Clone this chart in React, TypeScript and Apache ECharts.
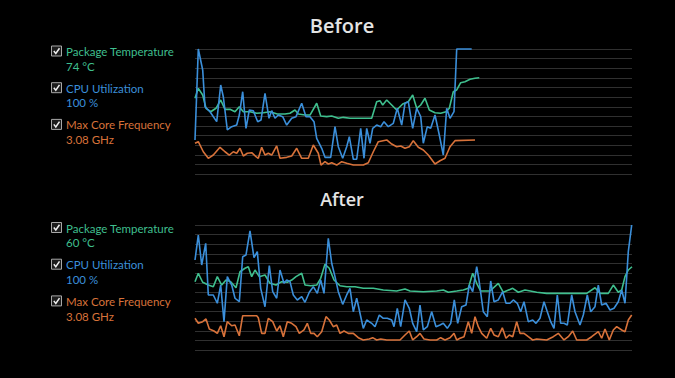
import React, { useEffect, useRef } from "react";
import * as echarts from "echarts";

// Panel titles and legend texts
const panelTitles = ["Before", "After"];
const seriesNames = ["Package Temperature", "CPU Utilization", "Max Core Frequency"];
const beforeReadings = ["74 °C", "100 %", "3.08 GHz"];
const afterReadings = ["60 °C", "100 %", "3.08 GHz"];

// [time step, level] samples, level on a 0..130 scale (CPU 100% reaches top line)
const beforeTemp: [number, number][] = [
  [0, 78.9], [3.3, 89.2], [7.7, 82.3], [11, 68.5], [15.7, 64.9], [21, 68.5], [25.7, 77.1], [30, 67.4],
  [35, 67.4], [40, 64.9], [44.3, 70.1], [48.3, 64.9], [55, 64.9], [61.7, 63.3], [68.3, 63.9], [75, 64.9],
  [82.3, 62.6], [90, 62.6], [95, 63.3], [100, 66.7], [103.3, 62.6], [110, 61.5], [115, 61.5], [121.7, 73.7],
  [125.7, 60.5], [131.7, 59.8], [136.7, 60.5], [143.3, 58.1], [148.3, 59.1], [155, 58.1], [165, 58.1],
  [176.7, 58.1], [181.7, 75.3], [185, 76.4], [187.7, 71.9], [191.7, 77.1], [196.7, 71.9], [201.7, 66.7],
  [207.7, 72.9], [213.3, 75.3], [217.7, 82.3], [221.7, 68.5], [225.7, 71.9], [230, 78.9], [234.3, 66.7],
  [240, 63.9], [245.7, 63.3], [251, 64.9], [254.3, 68.5], [258.3, 85.7], [261.7, 87.5], [265.7, 95.0],
  [270, 96.1], [275, 98.6], [280, 99.6], [284.3, 100.2],
];

const beforeCpu: [number, number][] = [
  [0, 35.6], [3.3, 130], [7.7, 108.2], [10, 70.1], [15, 64.9], [21.7, 54.6], [25.7, 92.6], [28.3, 80.5],
  [32.3, 46.0], [36.7, 49.4], [41.7, 51.1], [44.3, 61.5], [47.7, 85.7], [51, 47.7], [54.3, 66.7], [58.3, 66.0],
  [62.7, 54.6], [66, 56.3], [70, 84.0], [74, 58.1], [76.7, 66.0], [80, 58.1], [83.3, 61.5], [87.7, 59.8],
  [91.7, 51.1], [96.7, 58.1], [101, 59.8], [106.7, 73.7], [111, 59.8], [115, 59.8], [119, 54.6], [121.7, 37.3],
  [126.7, 27.0], [130, 17.6], [135.7, 17.6], [140, 49.4], [143.3, 28.6], [147.7, 16.6], [151.7, 28.6],
  [154.3, 39.0], [158.3, 15.6], [161.7, 15.6], [165.7, 47.7], [169, 16.6], [171.7, 47.7], [175, 32.2],
  [177.7, 47.7], [181.7, 51.1], [185.7, 49.4], [189, 54.6], [193.3, 49.4], [198.3, 52.9], [202.3, 68.5],
  [206.7, 51.1], [210, 73.7], [213.3, 75.3], [217.7, 47.7], [221.7, 68.5], [225.7, 59.8], [228.3, 32.2],
  [232.3, 49.4], [235.7, 47.7], [240, 61.5], [244.3, 40.8], [248.3, 20.0], [251.7, 68.5], [255, 58.1],
  [259, 65.0], [261.7, 130], [276.7, 130],
];

const beforeFreq: [number, number][] = [
  [0, 32.2], [3.3, 33.8], [8.3, 23.4], [13.3, 16.6], [18.3, 20.0], [25, 28.0], [30, 23.4], [34.3, 20.0],
  [38.3, 23.4], [41.7, 21.8], [45, 27.0], [48.3, 19.0], [52.3, 21.8], [56.7, 22.4], [61, 18.3], [63.3, 16.6],
  [66.7, 28.0], [70, 20.0], [73.3, 21.8], [76.7, 20.0], [81.7, 29.4], [85, 16.6], [91.7, 17.6], [96.7, 19.0],
  [101.7, 27.0], [106.7, 16.6], [113.3, 16.6], [118.3, 30.4], [123.3, 21.8], [126, 9.6], [130, 13.1],
  [133.3, 10.7], [136.7, 12.0], [141.7, 9.6], [146.7, 13.1], [151.7, 11.4], [158.3, 9.6], [168.3, 9.6],
  [173.3, 12.0], [178.3, 23.4], [183.3, 33.8], [191.7, 35.6], [196.7, 31.4], [201.7, 28.6], [205.7, 29.4],
  [210, 27.0], [214.3, 28.6], [218.3, 34.9], [223.3, 28.0], [228.3, 25.2], [233.3, 20.0], [240, 10.7],
  [245, 14.1], [250, 16.6], [255, 28.6], [260, 34.9], [280, 35.6],
];

const afterTemp: [number, number][] = [
  [0, 71.2], [3.3, 79.9], [7.7, 70.6], [13.3, 67.7], [18.3, 66.0], [22.3, 76.4], [26.7, 67.7], [31, 72.9],
  [35.7, 71.2], [41, 64.9], [45, 81.5], [50, 85.1], [53.3, 86.7], [56.7, 76.4], [60, 83.3], [64.3, 76.4],
  [70, 78.1], [75, 69.5], [81, 67.7], [86.7, 71.2], [92.3, 70.6], [96.7, 72.9], [101, 76.4], [106.7, 79.9],
  [110, 67.7], [115.7, 67.0], [121.7, 67.7], [125.7, 74.7], [130, 89.2], [134.3, 85.1], [139, 72.9],
  [145, 67.0], [151.7, 66.0], [160, 66.0], [168.3, 64.3], [178.3, 64.3], [188.3, 62.6], [201.7, 61.5],
  [210, 63.6], [215, 61.5], [228.3, 60.8], [241.7, 61.5], [248.3, 62.6], [253.3, 60.2], [261.7, 61.5],
  [268.3, 62.6], [273.3, 64.3], [277.7, 79.9], [281.7, 69.5], [285.7, 61.5], [295, 61.5], [303.3, 69.5],
  [308.3, 60.2], [317.7, 64.3], [323.3, 60.2], [330, 62.6], [341.7, 60.2], [351.7, 59.1], [375, 59.1],
  [391.7, 59.1], [400, 64.9], [405, 59.1], [413.3, 59.1], [418.3, 67.7], [423.3, 60.2], [426.7, 62.6],
  [430, 76.4], [433.3, 83.3], [437, 86.7],
];

const afterCpu: [number, number][] = [
  [0, 93.7], [3.3, 119.6], [6.7, 88.5], [10.7, 111.0], [13.3, 57.4], [18.3, 57.4], [22.3, 48.8], [25.7, 67.7],
  [29, 29.7], [32.3, 76.4], [36.7, 67.7], [40, 54.0], [44.3, 50.4], [47.7, 97.1], [51, 98.9], [55, 123.8],
  [59, 96.1], [62.3, 102.3], [65.7, 64.3], [70, 45.2], [74.3, 87.8], [77.7, 60.8], [81.7, 54.0], [85, 83.3],
  [89, 69.5], [91.7, 72.9], [95, 71.2], [98.3, 57.4], [102.3, 52.2], [106.7, 55.6], [110, 49.8], [114.3, 60.2],
  [118.3, 66.0], [122.3, 59.1], [125.7, 72.9], [129, 59.1], [133.3, 116.2], [136.7, 90.3], [140, 76.4],
  [143.3, 60.8], [147.7, 47.7], [151.7, 57.4], [155, 64.3], [158.3, 40.0], [161.7, 54.0], [165, 38.4],
  [168.3, 22.8], [171.7, 31.4], [176.7, 28.0], [180, 24.5], [184.3, 36.6], [188.3, 33.2], [192.3, 33.2],
  [196.7, 31.4], [199, 24.5], [202.3, 43.6], [205.7, 24.5], [210, 52.2], [214.3, 43.6], [217.7, 28.0],
  [221.7, 19.3], [225, 47.0], [228.3, 21.1], [232.3, 24.5], [236.7, 40.0], [241, 24.5], [245, 26.2],
  [248.3, 28.0], [252.3, 22.8], [255.7, 28.0], [259.3, 52.2], [262.7, 28.0], [266.7, 45.2], [271, 47.0],
  [274.3, 67.7], [277.7, 60.8], [281.7, 86.7], [284, 72.9], [288.3, 40.0], [292.3, 34.9], [295.7, 71.9],
  [299, 50.4], [303.3, 52.2], [307.7, 60.8], [311, 48.8], [315, 48.8], [318.3, 52.2], [322.3, 48.8],
  [325.7, 40.0], [329, 50.4], [333.3, 29.7], [337.7, 31.4], [341, 28.0], [345, 33.2], [349, 50.4],
  [352.3, 40.0], [355.7, 29.7], [359, 22.8], [362.3, 57.4], [365.7, 28.0], [369, 28.0], [372.3, 26.2],
  [376.7, 57.4], [380, 40.0], [385, 26.2], [388.3, 36.6], [392.3, 57.4], [395.7, 40.0], [400, 45.2],
  [403.3, 67.7], [406.7, 47.0], [411, 48.8], [415, 41.8], [419, 43.6], [423.3, 50.4], [426.7, 62.6],
  [430, 48.8], [433.3, 102.3], [436.7, 130],
];

const afterFreq: [number, number][] = [
  [0, 33.2], [3.3, 28.0], [7.7, 29.7], [11, 32.5], [14.3, 22.1], [19, 20.0], [22.3, 17.6], [25.7, 25.5],
  [29, 14.1], [32.3, 29.7], [36.7, 25.5], [40, 26.2], [44.3, 15.1], [47.7, 35.9], [53.3, 35.9], [61.7, 35.9],
  [63.3, 33.8], [66.7, 17.6], [70, 17.6], [73.3, 33.2], [77.7, 29.7], [81.7, 20.0], [85, 25.5], [88.3, 14.1],
  [92.3, 29.7], [96.7, 28.0], [101, 24.5], [104.3, 17.6], [109, 21.1], [112.3, 28.0], [115.7, 17.6],
  [119, 17.6], [122.3, 14.1], [126.7, 19.3], [131, 34.9], [134.3, 31.4], [138.3, 24.5], [141.7, 26.2],
  [145, 17.6], [149, 20.0], [153.3, 17.6], [158.3, 17.6], [163.3, 13.1], [168.3, 10.7], [174.3, 11.7],
  [177.7, 13.1], [181.7, 10.7], [185.7, 11.7], [191.7, 10.7], [205, 10.7], [210, 15.9], [214.3, 20.0],
  [217.7, 10.7], [221.7, 14.1], [225, 17.6], [229, 11.7], [235, 10.7], [241.7, 10.7], [245.7, 13.1],
  [250, 10.7], [255, 13.1], [259, 17.6], [261.7, 10.7], [265, 12.5], [269, 14.1], [273.3, 29.7],
  [276.7, 17.6], [280, 34.9], [283.3, 24.5], [286.7, 17.6], [291.7, 12.5], [295.7, 22.8], [299, 15.9],
  [303.3, 14.1], [307.3, 23.4], [311, 12.5], [314.3, 15.9], [317.7, 14.1], [321.7, 29.7], [325, 17.6],
  [329, 17.6], [333.3, 14.1], [337.7, 10.7], [341.7, 11.7], [351.7, 10.7], [358.3, 14.1], [363.3, 17.6],
  [369, 10.7], [373.3, 14.1], [377.7, 20.0], [381.7, 10.7], [391.7, 10.7], [396.7, 14.1], [403.3, 19.3],
  [406.7, 12.5], [410, 22.1], [414.3, 10.7], [418.3, 21.1], [421.7, 24.5], [426.7, 21.1], [430, 19.3],
  [433.3, 31.4], [436.7, 36.6],
];

const COLORS = ["#3fbf8e", "#3b8fda", "#d8723a"];

function buildLegend(baseY: number, readings: string[]) {
  const els: any[] = [];
  seriesNames.forEach((name, i) => {
    const cy = baseY + i * 36.7;
    els.push({
      type: "rect",
      shape: { x: 51.5, y: cy - 5.5, width: 10, height: 10 },
      style: { fill: "#1c1c1c", stroke: "#a8a8a8", lineWidth: 1 },
    });
    els.push({
      type: "polyline",
      shape: { points: [[53.8, cy - 0.5], [55.8, cy + 2], [59.5, cy - 3.3]] },
      style: { stroke: "#f0f0f0", lineWidth: 1.5, fill: null },
    });
    els.push({
      type: "text",
      x: 66,
      y: cy,
      style: {
        text: name,
        fill: COLORS[i],
        font: '11.5px Lato, sans-serif',
        textVerticalAlign: "middle",
        verticalAlign: "middle",
      },
    });
    els.push({
      type: "text",
      x: 66,
      y: cy + 14.6,
      style: {
        text: readings[i],
        fill: COLORS[i],
        font: '11.5px Lato, sans-serif',
        textVerticalAlign: "middle",
        verticalAlign: "middle",
      },
    });
  });
  return els;
}

export default function App() {
  const ref = useRef<HTMLDivElement>(null);
  useEffect(() => {
    document.body.style.margin = "0";
    document.body.style.background = "#000";
    const chart = echarts.init(ref.current!, null, { renderer: "svg" });
    const grids = [
      { left: 195, top: 49, width: 437, height: 125.3 },
      { left: 195, top: 225, width: 437, height: 125.3 },
    ];
    const xAxes = grids.map((_, i) => ({
      type: "value",
      gridIndex: i,
      min: 0,
      max: 437,
      show: false,
    }));
    const yAxes = grids.map((_, i) => ({
      type: "value",
      gridIndex: i,
      min: 0,
      max: 130,
      interval: 10,
      axisLine: { show: false },
      axisTick: { show: false },
      axisLabel: { show: false },
      splitLine: { show: true, lineStyle: { color: "#303030", width: 1 } },
    }));
    const panels = [
      [beforeTemp, beforeCpu, beforeFreq],
      [afterTemp, afterCpu, afterFreq],
    ];
    const series: any[] = [];
    panels.forEach((set, p) => {
      [2, 0, 1].forEach((i) => {
        series.push({
          type: "line",
          name: seriesNames[i] + (p ? " (after)" : ""),
          xAxisIndex: p,
          yAxisIndex: p,
          data: set[i],
          showSymbol: false,
          symbol: "none",
          clip: false,
          lineStyle: { color: COLORS[i], width: 1.6 },
          z: i === 1 ? 3 : 2,
        });
      });
    });
    chart.setOption({
      animation: false,
      backgroundColor: "#000",
      title: [
        {
          text: panelTitles[0],
          left: 337,
          top: 10,
          textAlign: "center",
          textStyle: { color: "#e4e4e4", fontSize: 20, fontWeight: 600, fontFamily: '"Open Sans", sans-serif' },
        },
        {
          text: panelTitles[1],
          left: 337,
          top: 185,
          textAlign: "center",
          textStyle: { color: "#e4e4e4", fontSize: 18, fontWeight: 600, fontFamily: '"Open Sans", sans-serif' },
        },
      ],
      grid: grids,
      xAxis: xAxes,
      yAxis: yAxes,
      series,
      graphic: [...buildLegend(51.5, beforeReadings), ...buildLegend(228, afterReadings)],
    });
    return () => chart.dispose();
  }, []);
  return (
    <div
      ref={ref}
      style={{ position: "fixed", left: 0, top: 0, width: 675, height: 378, background: "#000" }}
    />
  );
}
